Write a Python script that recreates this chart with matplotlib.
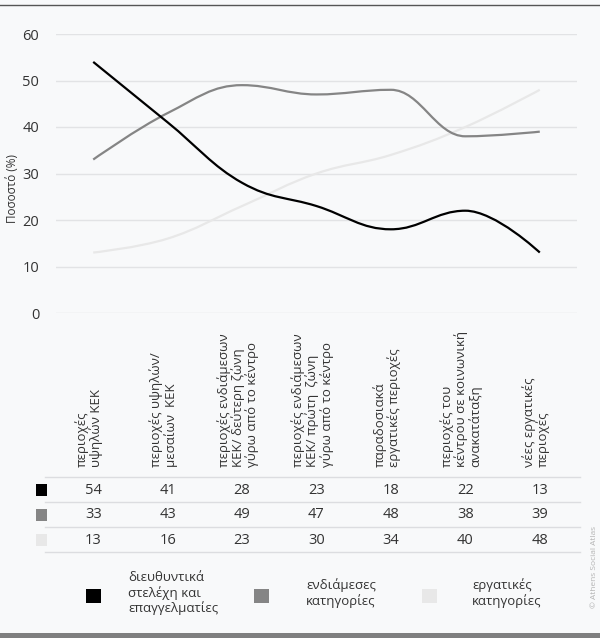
import numpy as np
import matplotlib
matplotlib.use('Agg')
import matplotlib.pyplot as plt
import matplotlib.transforms as mtransforms
from matplotlib.path import Path
from matplotlib.patches import PathPatch, Rectangle
from matplotlib.lines import Line2D

plt.rcParams['font.family'] = ['Open Sans', 'DejaVu Sans']

# data
categories = [
    'περιοχές\nυψηλών ΚΕΚ',
    'περιοχές υψηλών/\nμεσαίων  ΚΕΚ',
    'περιοχές ενδιάμεσων\nΚΕΚ/ δεύτερη ζώνη\nγύρω από το κέντρο',
    'περιοχές ενδιάμεσων\nΚΕΚ/ πρώτη  ζώνη\nγύρω από το κέντρο',
    'παραδοσιακά\nεργατικές περιοχές',
    'περιοχές του\nκέντρου σε κοινωνική\nανακατάταξη',
    'νέες εργατικές\nπεριοχές',
]
managers = [54, 41, 28, 23, 18, 22, 13]
intermediate = [33, 43, 49, 47, 48, 38, 39]
workers = [13, 16, 23, 30, 34, 40, 48]
series_names = ['διευθυντικά\nστελέχη και\nεπαγγελματίες',
                'ενδιάμεσες\nκατηγορίες',
                'εργατικές\nκατηγορίες']
series = [managers, intermediate, workers]
colors = ['#000000', '#858585', '#e8e8e8']
yticks = [0, 10, 20, 30, 40, 50, 60]

W, H = 600, 638
bg = '#f8f9fa'


def fy(py):
    return 1 - py / H


def spline_path(xs, ys, smoothing=1.5):
    # highcharts-like spline through the points
    n = len(xs)
    lc = [None] * n
    rc = [None] * n
    for i in range(n):
        if 0 < i < n - 1:
            px, py = xs[i], ys[i]
            lx, ly = xs[i - 1], ys[i - 1]
            nx, ny = xs[i + 1], ys[i + 1]
            d = smoothing + 1
            lcx = (smoothing * px + lx) / d
            lcy = (smoothing * py + ly) / d
            rcx = (smoothing * px + nx) / d
            rcy = (smoothing * py + ny) / d
            corr = (rcy - lcy) * (rcx - px) / (rcx - lcx) + py - rcy
            lcy += corr
            rcy += corr
            if lcy > ly and lcy > py:
                lcy = max(ly, py)
                rcy = 2 * py - lcy
            elif lcy < ly and lcy < py:
                lcy = min(ly, py)
                rcy = 2 * py - lcy
            if rcy > ny and rcy > py:
                rcy = max(ny, py)
                lcy = 2 * py - rcy
            elif rcy < ny and rcy < py:
                rcy = min(ny, py)
                lcy = 2 * py - rcy
            lc[i] = (lcx, lcy)
            rc[i] = (rcx, rcy)
        else:
            lc[i] = (xs[i], ys[i])
            rc[i] = (xs[i], ys[i])
    verts = [(xs[0], ys[0])]
    codes = [Path.MOVETO]
    for i in range(1, n):
        verts += [rc[i - 1], lc[i], (xs[i], ys[i])]
        codes += [Path.CURVE4] * 3
    return Path(verts, codes)


fig = plt.figure(figsize=(W / 100, H / 100), dpi=100, facecolor=bg)
ax = fig.add_axes([56 / W, fy(313), (577 - 56) / W, (313 - 34) / H])
ax.set_facecolor(bg)

x = np.arange(len(categories))
# draw lightest first so darker lines sit on top
for vals, col in list(zip(series, colors))[::-1]:
    ax.add_patch(PathPatch(spline_path(x, vals), fill=False, edgecolor=col,
                           lw=1.6, capstyle='butt', joinstyle='round'))

ax.set_xlim(-0.5, len(categories) - 0.5)
ax.set_ylim(0, 60)
ax.set_yticks(yticks)
ax.set_xticks([])
ax.grid(axis='y', color='#e2e3e5', lw=1)
ax.set_axisbelow(True)
for s in ax.spines.values():
    s.set_visible(False)
ax.tick_params(axis='y', length=0, pad=12, labelsize=10.5, labelcolor='#333333')

fig.text(13 / W, fy(189), 'Ποσοστό (%)', rotation=90, ha='center', va='center',
         fontsize=8.5, color='#333333')

# category labels (table header)
blend = mtransforms.blended_transform_factory(ax.transData, fig.transFigure)
lab_tr = blend + mtransforms.ScaledTranslation(-4 / 100, 0, fig.dpi_scale_trans)
for i, c in enumerate(categories):
    fig.text(i, fy(467), c, transform=lab_tr, rotation=90, ha='center', va='bottom',
             multialignment='left', fontsize=9.5, linespacing=1.05, color='#333333')

# data table
row_lines = [477, 502, 527, 552]
row_centers = [490, 515, 540]
for py in row_lines:
    fig.add_artist(Line2D([45 / W, 580 / W], [fy(py), fy(py)], color='#dcdde0', lw=1))
for r, (vals, col) in enumerate(zip(series, colors)):
    fig.add_artist(Rectangle((36 / W, fy(row_centers[r] + 6)), 11 / W, 12 / H,
                             facecolor=col, edgecolor='none', transform=fig.transFigure))
    for i, v in enumerate(vals):
        fig.text(i, fy(row_centers[r]), str(v), transform=blend, ha='center', va='center',
                 fontsize=10.5, color='#333333')

# legend
leg_sq = [86, 254, 422]
leg_tx = [128, 306, 472]
for name, col, sx, tx in zip(series_names, colors, leg_sq, leg_tx):
    fig.add_artist(Rectangle((sx / W, fy(603)), 15 / W, 14 / H, facecolor=col,
                             edgecolor='none', transform=fig.transFigure))
    fig.text(tx / W, fy(593), name, ha='left', va='center', fontsize=9.5,
             linespacing=1.17, color='#333333')

fig.text(594 / W, fy(567), '© Athens Social Atlas', rotation=90, ha='center', va='center',
         fontsize=6, color='#b4b4b4')

# frame lines
fig.add_artist(Line2D([0, 1], [fy(5), fy(5)], color='#555555', lw=1))
fig.add_artist(Rectangle((0, 0), 1, 5 / H, facecolor='#7f7f7f', edgecolor='none',
                         transform=fig.transFigure))

fig.savefig('out.png', dpi=100, facecolor=bg)
